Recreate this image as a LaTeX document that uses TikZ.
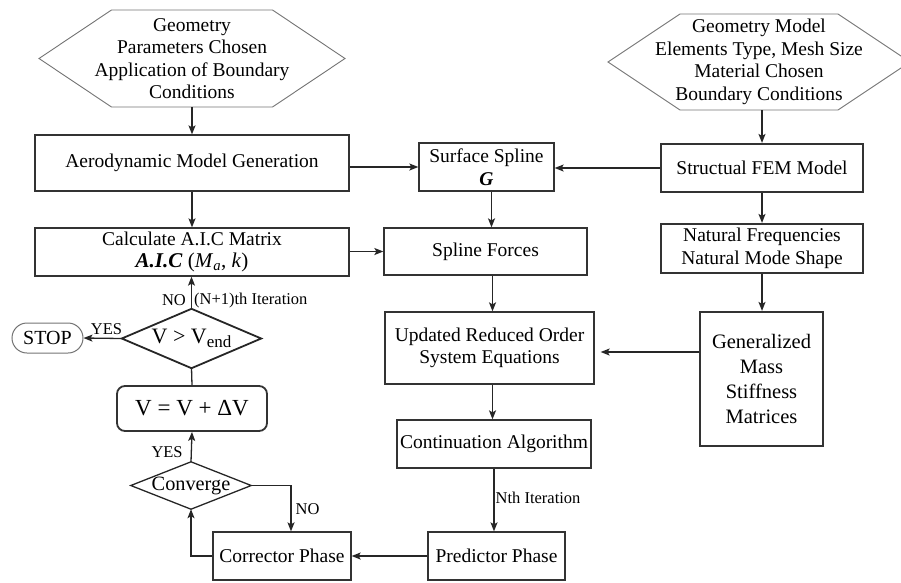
\documentclass[tikz,border=0pt]{standalone}
\usepackage{fontspec}
\setmainfont{Liberation Serif}
\usetikzlibrary{arrows.meta,calc}
\begin{document}
\begin{tikzpicture}[x=1pt,y=-1pt,
  txt/.style={font=\fontsize{19.5}{22.5}\selectfont, text=black},
  box/.style={txt, draw=black!80, line width=1.3pt, rectangle, align=center, inner sep=0pt},
  tbox/.style={box, line width=2.2pt},
  arr/.style={draw=black!85, line width=1.3pt, -{Stealth[length=9pt,width=7pt,inset=2pt]}},
  plainline/.style={draw=black!85, line width=1.3pt},
  hexline/.style={draw=black!55, line width=0.9pt},
  lbl/.style={font=\fontsize{16.5}{18}\selectfont, inner sep=1pt, text=black},
  dtext/.style={txt, inner sep=0pt, align=center}
]
\useasboundingbox (0,0) rectangle (901,582);

% hexagons
\node[dtext, minimum height=97] (hexa) at (192,58.5) {Geometry\\Parameters Chosen\\Application of Boundary\\Conditions};
\draw[hexline] ($(hexa.center)+(-80.5,-48.5)$) -- ($(hexa.center)+(80.5,-48.5)$) -- ($(hexa.center)+(153,0)$)
  -- ($(hexa.center)+(80.5,48.5)$) -- ($(hexa.center)+(-80.5,48.5)$) -- ($(hexa.center)+(-153,0)$) -- cycle;
\node[dtext, minimum height=96] (hexb) at (759,62) {Geometry Model\\Elements Type, Mesh Size\\Material Chosen\\Boundary Conditions};
\draw[hexline] ($(hexb.center)+(-79,-48)$) -- ($(hexb.center)+(79,-48)$) -- ($(hexb.center)+(151,0)$)
  -- ($(hexb.center)+(79,48)$) -- ($(hexb.center)+(-79,48)$) -- ($(hexb.center)+(-151,0)$) -- cycle;

% boxes
\node[box, minimum width=314, minimum height=56] (aero) at (192,163) {Aerodynamic Model Generation};
\node[box, minimum width=314, minimum height=48] (aic) at (192,252) {Calculate A.I.C Matrix\\[-1pt]{\fontsize{21}{22}\selectfont\textbf{\textit{A.I.C}} (\textit{M}\textsubscript{\textit{a}}, \textit{k})}};
\node[box, minimum width=135, minimum height=48] (surf) at (486.5,167) {Surface Spline\\\textbf{\textit{G}}};
\node[box, minimum width=203, minimum height=47] (sforce) at (485.5,251.5) {Spline Forces};
\node[tbox, minimum width=202, minimum height=48] (fem) at (762,168) {Structual FEM Model};
\node[tbox, minimum width=202, minimum height=49] (nat) at (762,248.5) {Natural Frequencies\\Natural Mode Shape};
\node[tbox, minimum width=123, minimum height=134, font=\fontsize{20.5}{25}\selectfont] (gen) at (761.5,379) {Generalized\\Mass\\Stiffness\\Matrices};
\node[box, minimum width=209, minimum height=72] (upd) at (489.5,348) {Updated Reduced Order\\System Equations};
\node[box, minimum width=194, minimum height=48] (cont) at (494,444) {Continuation Algorithm};
\node[box, minimum width=137, minimum height=48] (pred) at (496.5,556) {Predictor Phase};
\node[box, minimum width=138, minimum height=48] (corr) at (282,556) {Corrector Phase};
\node[box, minimum width=150, minimum height=45, rounded corners=8pt, line width=1.8pt, font=\fontsize{23}{25}\selectfont] (vbox) at (192,408.5) {V = V + ΔV};
\node[box, minimum width=71, minimum height=30, rounded corners=15pt, draw=black!55, line width=1pt, font=\fontsize{20}{22}\selectfont] (stop) at (47.5,338) {STOP};

% diamonds
\node[dtext, minimum width=120, minimum height=47, font=\fontsize{20.3}{22}\selectfont] (conv) at (191,485.5) {Converge};
\draw[plainline] (conv.north) -- (conv.east) -- (conv.south) -- (conv.west) -- cycle;
\node[dtext, minimum width=139, minimum height=59, font=\fontsize{22}{24}\selectfont] (vend) at (191.5,338.5) {V > V\raisebox{-4pt}{\fontsize{17}{17}\selectfont end}};
\draw[plainline, line width=1.8pt] (vend.north) -- (vend.east) -- (vend.south) -- (vend.west) -- cycle;

% connectors
\draw[arr] (hexa.south) -- (aero.north);
\draw[arr] (aero.east |- surf.west) -- (surf.west);
\draw[arr] (aero.south) -- (aic.north);
\draw[arr] (aic.east |- sforce.west) -- (sforce.west);
\draw[arr] (fem.west) -- (fem.west -| surf.east);
\draw[arr] (hexb.south -| fem.north) -- (fem.north);
\draw[arr] (fem.south) -- (nat.north);
\draw[arr] ([xshift=5pt]surf.south) -- ([xshift=5pt]surf.south |- sforce.north);
\draw[arr] ([xshift=3pt]upd.north |- sforce.south) -- ([xshift=3pt]upd.north);
\draw[arr] ([xshift=3pt]upd.south) -- ([xshift=3pt]upd.south |- cont.north);
\draw[arr] (cont.south) -- (cont.south |- pred.north) node[lbl, pos=0.47, anchor=west] {Nth Iteration};
\draw[arr] (nat.south) -- (nat.south |- gen.north);
\draw[arr, shorten >=6pt] ([yshift=-4pt]gen.west |- upd.east) -- ([yshift=-4pt]upd.east);
\draw[arr] (pred.west) -- (corr.east);
\draw[arr] (corr.west) -| (conv.south);
\draw[arr] (conv.east) -| ([xshift=9pt]corr.north) node[lbl, pos=0.76, anchor=west, xshift=3pt] {NO};
\draw[arr] (conv.north) -- (vbox.south) node[lbl, pos=0.32, anchor=east, xshift=-7pt] {YES};
\draw[plainline] (vbox.north) -- (vend.south);
\draw[arr] (vend.west) -- (stop.east) node[lbl, pos=0.4, anchor=south, yshift=2pt] {YES};
\draw[arr] (vend.north) -- (vend.north |- aic.south)
  node[lbl, pos=0.27, anchor=east, xshift=-4pt] {NO}
  node[lbl, pos=0.27, anchor=west, xshift=1pt] {(N+1)th Iteration};
\end{tikzpicture}
\end{document}
